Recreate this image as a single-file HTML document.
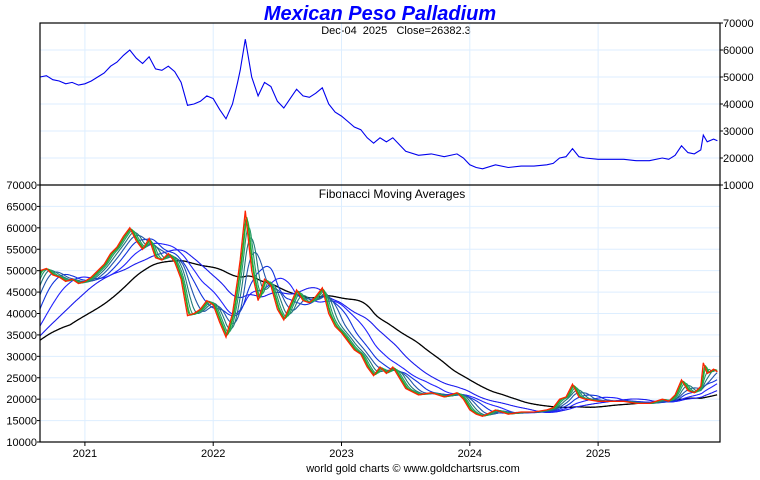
<!DOCTYPE html>
<html><head><meta charset="utf-8"><style>
body{margin:0;background:#fff;width:760px;height:475px;overflow:hidden;font-family:"Liberation Sans",sans-serif}
</style></head><body>
<svg id="c" width="760" height="475" xmlns="http://www.w3.org/2000/svg" font-family="Liberation Sans, sans-serif">
<text x="380" y="20" text-anchor="middle" font-size="20" font-weight="bold" font-style="italic" fill="#0000ff">Mexican Peso Palladium</text>
<text x="396" y="34" text-anchor="middle" font-size="11" fill="#000" xml:space="preserve">Dec-04  2025   Close=26382.3</text>
<text x="392" y="198" text-anchor="middle" font-size="12" fill="#000">Fibonacci Moving Averages</text>
<text x="413" y="472" text-anchor="middle" font-size="11" fill="#000">world gold charts © www.goldchartsrus.com</text>
</svg>
<script>
const dates=[2019.9,2020.1,2020.25,2020.4,2020.55,2020.65,2020.7,2020.75,2020.8,2020.85,2020.9,2020.95,2021.0,2021.05,2021.1,2021.15,2021.2,2021.25,2021.3,2021.35,2021.4,2021.45,2021.5,2021.55,2021.6,2021.65,2021.7,2021.75,2021.8,2021.85,2021.9,2021.95,2022.0,2022.05,2022.1,2022.15,2022.19,2022.21,2022.25,2022.3,2022.35,2022.4,2022.45,2022.5,2022.55,2022.6,2022.65,2022.7,2022.75,2022.8,2022.85,2022.9,2022.95,2023.0,2023.05,2023.1,2023.15,2023.2,2023.25,2023.3,2023.35,2023.4,2023.5,2023.6,2023.7,2023.8,2023.9,2023.95,2024.0,2024.05,2024.1,2024.2,2024.3,2024.4,2024.5,2024.6,2024.65,2024.7,2024.75,2024.8,2024.85,2024.9,2025.0,2025.1,2025.2,2025.3,2025.4,2025.5,2025.55,2025.6,2025.65,2025.7,2025.75,2025.8,2025.82,2025.85,2025.9,2025.93];
const prices=[28000,32000,30000,31000,42000,50000,50500,49000,48500,47500,48000,47000,47500,48500,50000,51500,54000,55500,58000,60000,57000,55000,57500,53000,52500,54000,52000,48000,39500,40000,41000,43000,42000,38000,34500,40000,48000,52500,64000,50000,43000,48000,46500,41000,38500,42000,45500,43000,42500,44000,46000,40000,37000,35500,33500,31500,30500,27500,25500,27500,26000,27500,22500,21000,21500,20500,21500,20000,17500,16500,16000,17500,16500,17000,17000,17500,18000,20000,20500,23500,20500,20000,19500,19500,19500,19000,19000,20000,19500,21000,24500,22000,21500,23000,28500,26000,27000,26400];
const yTicks=[70000,60000,50000,40000,30000,20000,10000];
const yTicks2=[70000,65000,60000,55000,50000,45000,40000,35000,30000,25000,20000,15000,10000];
const years=[2021,2022,2023,2024,2025];
const maPeriods=[5,8,13,21,34,55,89,144,233];
const maColors=["#22aa22","#33aa55","#229966","#227777","#2255aa","#1133dd","#2222ff","#1a1aee","#000000"];
const svg=document.getElementById('c');const NS="http://www.w3.org/2000/svg";
const L=40,R=720,T=23,M=185,B=442,x0=2020.65,x1=2025.95;
const X=d=>L+(d-x0)/(x1-x0)*(R-L);
const Y1=v=>T+(70000-v)/60000*(M-T);
const Y2=v=>M+(70000-v)/60000*(B-M);
function el(t,a){const e=document.createElementNS(NS,t);for(const k in a)e.setAttribute(k,a[k]);svg.appendChild(e);return e;}
yTicks.forEach(v=>{const g=el('line',{x1:L,x2:R,y1:Y1(v),y2:Y1(v),stroke:'#ddeeff'});


const t=el('text',{x:R+3,y:Y1(v)+4,'font-size':11});t.textContent=v;

});
yTicks2.forEach(v=>{const g=el('line',{x1:L,x2:R,y1:Y2(v),y2:Y2(v),stroke:'#ddeeff'});


const t=el('text',{x:L-3,y:Y2(v)+4,'font-size':11,'text-anchor':'end'});t.textContent=v;


el('line',{x1:L-3,x2:L,y1:Y2(v),y2:Y2(v),stroke:'#000'});});
years.forEach(y=>{const g=el('line',{x1:X(y),x2:X(y),y1:T,y2:B,stroke:'#ddeeff'});


el('line',{x1:X(y),x2:X(y),y1:B,y2:B+4,stroke:'#000'});
const t=el('text',{x:X(y),y:B+15,'font-size':11,'text-anchor':'middle'});t.textContent=y;

});
const cp=el('clipPath',{id:'cp'});const cr=document.createElementNS(NS,'rect');
cr.setAttribute('x',L);cr.setAttribute('y',T);cr.setAttribute('width',R-L);cr.setAttribute('height',B-T);cp.appendChild(cr);
const daily=[];for(let d=dates[0];d<=dates[dates.length-1];d+=1/365){let i=0;while(i<dates.length-2&&dates[i+1]<d)i++;const f=(d-dates[i])/(dates[i+1]-dates[i]);daily.push([d,prices[i]+(prices[i+1]-prices[i])*Math.max(0,Math.min(1,f))]);}
for(let k=maPeriods.length-1;k>=0;k--){const n=Math.round(maPeriods[k]*1.55);let s=0,pts=[];
for(let i=0;i<daily.length;i++){s+=daily[i][1];if(i>=n)s-=daily[i-n][1];const c=Math.min(i+1,n);if(daily[i][0]>=x0-0.01)pts.push(X(daily[i][0]).toFixed(1)+','+Y2(s/c).toFixed(1));}
const p=el('polyline',{points:pts.join(' '),fill:'none',stroke:maColors[k],'stroke-width':k==8?1.3:1.1,'clip-path':'url(#cp)'});

}
const pp=dates.map((d,i)=>X(d).toFixed(1)+','+Y2(prices[i]).toFixed(1)).join(' ');
const pr=el('polyline',{points:pp,fill:'none',stroke:'#ff2200','stroke-width':1.3,'clip-path':'url(#cp)'});


const pt=dates.map((d,i)=>X(d).toFixed(1)+','+Y1(prices[i]).toFixed(1)).join(' ');
const cp2=el('clipPath',{id:'cp2'});const cr2=document.createElementNS(NS,'rect');
cr2.setAttribute('x',L);cr2.setAttribute('y',T);cr2.setAttribute('width',R-L);cr2.setAttribute('height',M-T);cp2.appendChild(cr2);
const tl=el('polyline',{points:pt,fill:'none',stroke:'#0000ee','stroke-width':1.1,'clip-path':'url(#cp2)'});


yTicks.forEach(v=>el('line',{x1:R,x2:R+3,y1:Y1(v),y2:Y1(v),stroke:'#000'}));
const f1=el('rect',{x:L,y:T,width:R-L,height:B-T,fill:'none',stroke:'#000','stroke-width':1.2});


el('line',{x1:L,x2:R,y1:M,y2:M,stroke:'#000','stroke-width':1.2});
</script>
</body></html>
